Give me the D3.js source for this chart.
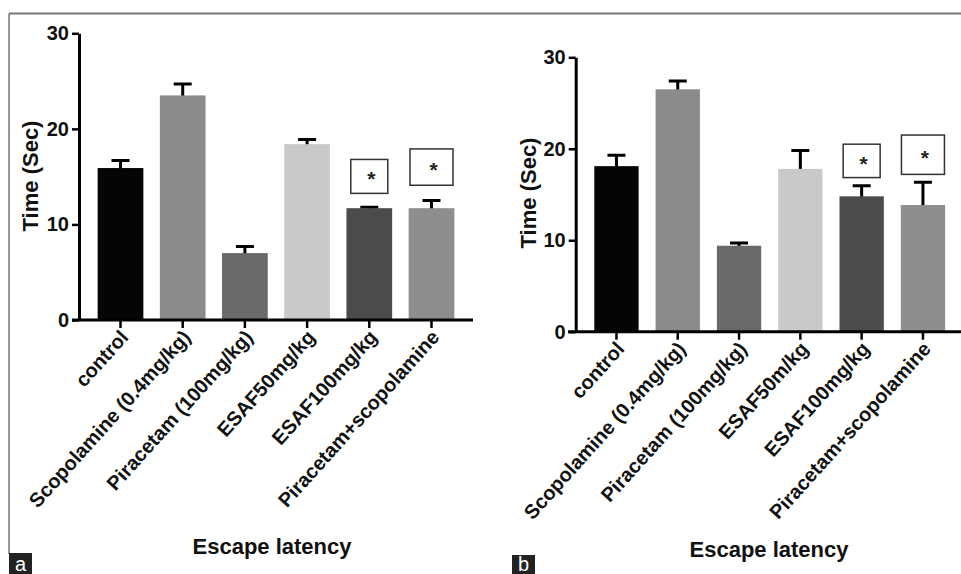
<!DOCTYPE html>
<html>
  <head>
    <meta charset="UTF-8">
    <title>Escape latency</title>
    <script src="https://d3js.org/d3.v7.min.js"></script>
    <style>
      body { margin: 0; background: #fff; }
      text { font-family: "Liberation Sans", Arial, sans-serif; }
    </style>
  </head>
  <body>
    <svg width="961" height="574"></svg>

    <script>

// data
const categoriesA = ["control", "Scopolamine (0.4mg/kg)", "Piracetam (100mg/kg)", "ESAF50mg/kg", "ESAF100mg/kg", "Piracetam+scopolamine"];
const categoriesB = ["control", "Scopolamine (0.4mg/kg)", "Piracetam (100mg/kg)", "ESAF50m/kg", "ESAF100mg/kg", "Piracetam+scopolamine"];
const meanA = [15.9, 23.5, 7.0, 18.4, 11.7, 11.7];
const errA  = [0.8, 1.2, 0.7, 0.5, 0.1, 0.8];
const meanB = [18.1, 26.5, 9.4, 17.8, 14.8, 13.85];
const errB  = [1.2, 0.9, 0.3, 2.0, 1.15, 2.5];
const barColors = ["#050505", "#8b8b8b", "#6a6a6a", "#c9c9c9", "#4b4b4b", "#8e8e8e"];
const yTicks = [0, 10, 20, 30];
// significance boxes: bar index, low / high in seconds
const starsA = [{ i: 4, lo: 13.25, hi: 16.8 }, { i: 5, lo: 14.1, hi: 17.9 }];
const starsB = [{ i: 4, lo: 16.85, hi: 20.5 }, { i: 5, lo: 17.2, hi: 21.5 }];

const svg = d3.select("svg");

// frame
svg.append("line").attr("x1", 9).attr("x2", 961).attr("y1", 13.5).attr("y2", 13.5)
  .attr("stroke", "#777").attr("stroke-width", 2);
svg.append("line").attr("x1", 9).attr("x2", 9).attr("y1", 13.5).attr("y2", 554)
  .attr("stroke", "#777").attr("stroke-width", 1.5);

function panel(p) {
  const g = svg.append("g");
  const y = d3.scaleLinear().domain([0, 30]).range([p.y0, p.y30]);
  const x = d3.scalePoint().domain(p.cats).range(p.xr).padding(0.5);
  const bw = x.step() * p.bar;

  const rows = p.cats.map((c, i) => ({ c: c, v: p.mean[i], e: p.err[i], col: barColors[i] }));

  // error bars (upper only)
  g.selectAll(".err").data(rows).join("path")
    .attr("d", d => {
      const cx = x(d.c), top = y(d.v + d.e);
      return `M${cx},${y(d.v) + 1}V${top}M${cx - 9},${top}H${cx + 9}`;
    })
    .attr("fill", "none").attr("stroke", "#000").attr("stroke-width", 3);

  g.selectAll(".bar").data(rows).join("rect")
    .attr("x", d => x(d.c) - bw / 2)
    .attr("width", bw)
    .attr("y", d => y(d.v))
    .attr("height", d => y(0) - y(d.v))
    .attr("fill", d => d.col);

  // star boxes
  p.stars.forEach((s, k) => {
    const cx = x(p.cats[s.i]);
    const w = k === 0 ? 37 : 43;
    const x0 = cx - w / 2;
    g.append("rect").attr("x", x0).attr("y", y(s.hi)).attr("width", w)
      .attr("height", y(s.lo) - y(s.hi))
      .attr("fill", "#fff").attr("stroke", "#333").attr("stroke-width", 1.5);
    g.append("text").attr("x", x0 + w / 2 + 2).attr("y", (y(s.lo) + y(s.hi)) / 2 + 10)
      .attr("text-anchor", "middle").attr("font-size", 21).attr("font-weight", "bold")
      .attr("fill", "#222").text("*");
  });

  // y axis
  const ya = g.append("g").attr("transform", `translate(${p.ax},0)`)
    .call(d3.axisLeft(y).tickValues(yTicks).tickSize(7).tickSizeOuter(0).tickPadding(3));
  ya.select(".domain").attr("stroke-width", 3);
  ya.selectAll(".tick line").attr("stroke-width", 2.5);
  ya.selectAll("text").attr("font-size", 20).attr("font-weight", "bold")
    .attr("font-family", "Liberation Sans, Arial, sans-serif").attr("fill", "#111");

  // x axis
  g.append("line").attr("x1", p.xl[0]).attr("x2", p.xl[1])
    .attr("y1", y(0)).attr("y2", y(0)).attr("stroke", "#000").attr("stroke-width", 3);
  g.selectAll(".xt").data(p.cats).join("line")
    .attr("x1", d => x(d)).attr("x2", d => x(d))
    .attr("y1", y(0)).attr("y2", y(0) + 8)
    .attr("stroke", "#000").attr("stroke-width", 2.5);
  g.selectAll(".xl").data(p.cats).join("text")
    .attr("transform", d => `translate(${x(d) + 9},${y(0) + 18}) rotate(-48)`)
    .attr("text-anchor", "end")
    .attr("font-size", 20).attr("font-weight", "bold").attr("fill", "#111")
    .text(d => d);

  // titles
  g.append("text")
    .attr("transform", `translate(${p.ylab[0]},${p.ylab[1]}) rotate(-90)`)
    .attr("text-anchor", "middle").attr("font-size", 22).attr("font-weight", "bold")
    .attr("fill", "#111").text("Time (Sec)");
  g.append("text").attr("x", p.xlab[0]).attr("y", p.xlab[1])
    .attr("text-anchor", "middle").attr("font-size", 22).attr("font-weight", "bold")
    .attr("fill", "#111").text("Escape latency");

  // panel letter
  g.append("rect").attr("x", p.tag[0]).attr("y", p.tag[1]).attr("width", 23).attr("height", 574 - p.tag[1])
    .attr("fill", "#222");
  g.append("text").attr("x", p.tag[0] + 11.5).attr("y", 571)
    .attr("text-anchor", "middle").attr("font-size", 20).attr("fill", "#fff").text(p.letter);
}

panel({
  cats: categoriesA, mean: meanA, err: errA, stars: starsA,
  y0: 320, y30: 33.3, xr: [89.4, 462.6], bar: 0.735, ax: 79, xl: [72, 473],
  ylab: [38, 176], xlab: [272, 554], tag: [9, 553], letter: "a"
});
panel({
  cats: categoriesB, mean: meanB, err: errB, stars: starsB,
  y0: 331.7, y30: 57.3, xr: [585.8, 953.6], bar: 0.723, ax: 575.7, xl: [568, 961],
  ylab: [536, 193], xlab: [769, 557], tag: [512, 555], letter: "b"
});

    </script>
  </body>
</html>
